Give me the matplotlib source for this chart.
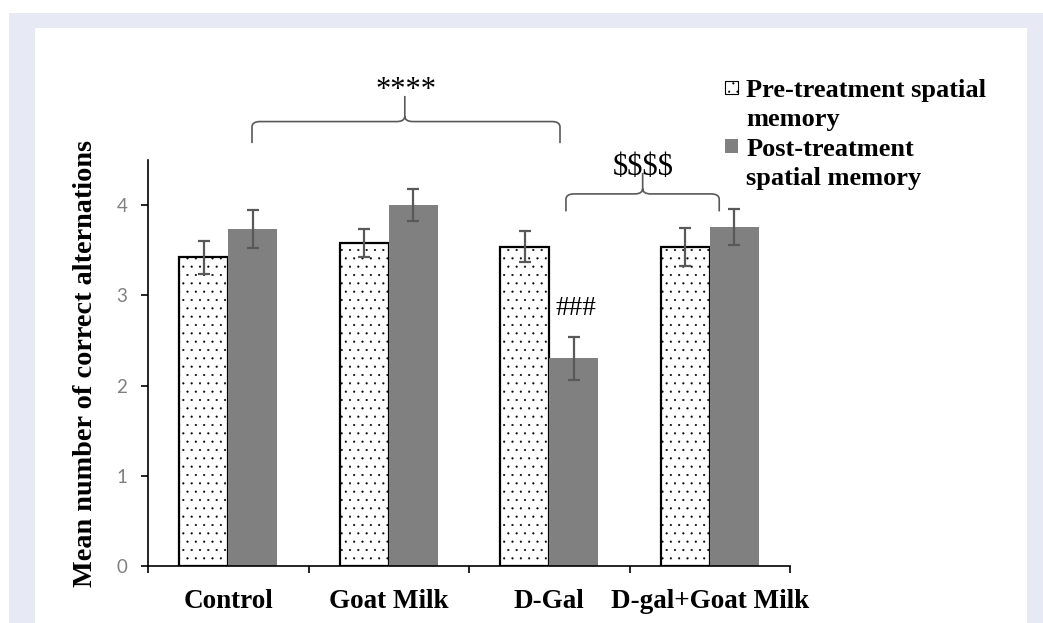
import matplotlib
matplotlib.use("Agg")
import matplotlib.pyplot as plt
import numpy as np
from matplotlib.patches import Rectangle, Patch, PathPatch
from matplotlib.path import Path

categories = ["Control", "Goat Milk", "D-Gal", "D-gal+Goat Milk"]
pre = [3.42, 3.58, 3.54, 3.54]
pre_err = [0.18, 0.16, 0.17, 0.21]
post = [3.74, 4.00, 2.30, 3.76]
post_err = [0.21, 0.18, 0.24, 0.20]
yticks = [0, 1, 2, 3, 4]
legend_labels = ["Pre-treatment spatial", "memory", "Post-treatment", "spatial memory"]

W, H = 1043, 623
plt.rcParams['hatch.linewidth'] = 0.3
fig = plt.figure(figsize=(W / 100, H / 100), dpi=100)
fig.patch.set_facecolor("white")

# background panels
fig.patches.append(Rectangle((9 / W, 0), 1, (H - 13) / H, transform=fig.transFigure,
                             facecolor="#E7EAF5", edgecolor="none", zorder=-10))
fig.patches.append(Rectangle((35 / W, 0), (1027 - 35) / W, (H - 28) / H, transform=fig.transFigure,
                             facecolor="white", edgecolor="none", zorder=-9))

ax = fig.add_axes([148 / W, 1 - 566 / H, (790 - 148) / W, (566 - 160) / H])
ax.patch.set_alpha(0)

x = np.arange(len(categories))
w = 0.305
ekw = dict(ecolor="#595959", elinewidth=1.6, capsize=4, capthick=1.6)
ax.bar(x - w / 2, pre, w, yerr=pre_err, facecolor="white", edgecolor="black",
       linewidth=1.6, hatch="..", error_kw=ekw, zorder=2)
ax.bar(x + w / 2, post, w, yerr=post_err, facecolor="#808080", edgecolor="none",
       error_kw=ekw, zorder=2)

ax.set_xlim(-0.5, 3.5)
ax.set_ylim(0, 4.5)
for s in ["top", "right"]:
    ax.spines[s].set_visible(False)
for s in ["left", "bottom"]:
    ax.spines[s].set_linewidth(1.2)
    ax.spines[s].set_color("black")

ax.set_yticks(yticks)
ax.set_yticklabels([str(v) for v in yticks], fontfamily="Lato", fontsize=13.5, color="#808080")
ax.tick_params(axis="y", length=5, width=1.2, pad=10, color="black")

ax.set_xticks(np.arange(-0.5, 4, 1.0))
ax.set_xticklabels([])
ax.set_xticks(x, minor=True)
ax.set_xticklabels(categories, minor=True, fontfamily="Liberation Serif",
                   fontweight="bold", fontsize=19.5)
ax.tick_params(axis="x", which="major", length=5, width=1.2, color="black")
ax.tick_params(axis="x", which="minor", length=0, pad=16.5)

ax.set_ylabel("Mean number of correct alternations", fontfamily="Liberation Serif",
              fontweight="bold", fontsize=20.3)
ax.yaxis.set_label_coords(-0.078, 0.5)


def brace(x0, x1, xm, yh, yend, ypeak, dx=0.05, dy=0.06):
    verts = [(x0, yend), (x0, yh - dy), (x0, yh), (x0 + dx, yh),
             (xm - dx, yh), (xm, yh), (xm, yh + dy), (xm, ypeak),
             (xm, yh + dy), (xm, yh), (xm + dx, yh), (x1 - dx, yh),
             (x1, yh), (x1, yh - dy), (x1, yend)]
    codes = [Path.MOVETO, Path.LINETO, Path.CURVE3, Path.CURVE3,
             Path.LINETO, Path.CURVE3, Path.CURVE3, Path.LINETO,
             Path.MOVETO, Path.CURVE3, Path.CURVE3, Path.LINETO,
             Path.CURVE3, Path.CURVE3, Path.LINETO]
    p = PathPatch(Path(verts, codes), facecolor="none", edgecolor="#595959",
                  linewidth=1.2, clip_on=False, transform=ax.transData)
    ax.add_patch(p)


brace(0.148, 2.067, 1.10, 4.926, 4.687, 5.21)
brace(2.104, 3.059, 2.582, 4.124, 3.93, 4.357)

ax.text(1.11, 5.19, "****", ha="center", va="baseline", fontfamily="Liberation Serif",
        fontsize=22, clip_on=False)
ax.text(2.587, 4.33, "$$$$", ha="center", va="baseline", fontfamily="Liberation Serif",
        fontsize=22, clip_on=False, parse_math=False)
ax.text(2.164, 2.78, "###", ha="center", va="baseline", fontfamily="Liberation Serif",
        fontsize=19.5, clip_on=False)

blank = Patch(facecolor="none", edgecolor="none")
h_pre = Patch(facecolor="white", edgecolor="black", linewidth=0.8, hatch="..")
h_post = Patch(facecolor="#808080", edgecolor="none")
leg = ax.legend([h_pre, blank, h_post, blank], legend_labels,
                loc="upper left", bbox_to_anchor=(725 / W, 1 - 79 / H),
                bbox_transform=fig.transFigure, frameon=False,
                prop=dict(family="Liberation Serif", weight="bold", size=19),
                handlelength=0.5, handleheight=0.42, handletextpad=0.3,
                labelspacing=0.24, borderpad=0, borderaxespad=0)

fig.savefig("out.png", dpi=100)
